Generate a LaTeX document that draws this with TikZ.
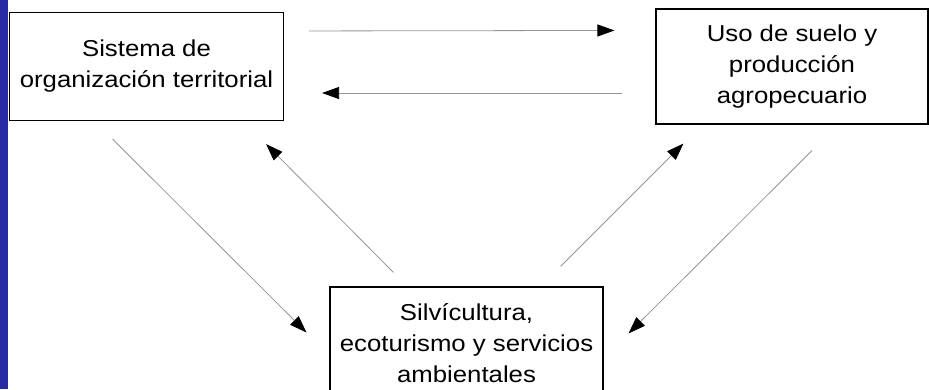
\documentclass[tikz,border=0pt]{standalone}
\usepackage{fontspec}
\setmainfont{Liberation Sans}
\newfontfamily\boxfont[FakeStretch=1.12]{Liberation Sans}
\usetikzlibrary{arrows.meta}
\definecolor{slideblue}{RGB}{42,42,165}
\definecolor{flowgray}{RGB}{150,150,150}

\begin{document}
\begin{tikzpicture}[x=1pt, y=-1pt,
		sysbox/.style={draw=black, line width=1.1pt, align=center, inner sep=0pt,
			font=\boxfont\fontsize{23}{31}\selectfont},
		flow/.style={draw=flowgray, line width=0.8pt,
			-{Triangle[length=17pt, width=12pt, color=black]}}]
			%%%%% START %%%%%
			
			\useasboundingbox (0, 0) rectangle (929, 389);
			\clip (0, 0) rectangle (929, 389);
			\fill[white] (0, 0) rectangle (929, 389);
			\fill[slideblue] (0, 0) rectangle (8, 389);
			
			\node[sysbox, minimum width=274pt, minimum height=108pt] (sistema) at (146.5, 66.5)
				{Sistema de\\organización territorial};
			\node[sysbox, minimum width=272pt, minimum height=115pt] (uso) at (792, 66.5)
				{Uso de suelo y\\producción\\agropecuario};
			\node[sysbox, minimum width=273pt, minimum height=112pt] (silvi) at (466.5, 343)
				{Silvícultura,\\ecoturismo y servicios\\ambientales};
			
			\draw[flow] ([shift={(25, 19)}]sistema.north east) -- ([shift={(-41, 22)}]uso.north west);
			\draw[flow] ([shift={(-33, 26.5)}]uso.west) -- ([shift={(38, 26.5)}]sistema.east);
			
			\draw[flow] ([shift={(-34, 18)}]sistema.south) -- ([shift={(-23, 46)}]silvi.north west);
			\draw[flow] ([shift={(64, -14)}]silvi.north west) -- ([shift={(-18, 23)}]sistema.south east);
			
			\draw[flow] ([shift={(-43, -20)}]silvi.north east) -- ([shift={(28, 19)}]uso.south west);
			\draw[flow] ([shift={(20, 26)}]uso.south) -- ([shift={(25, 47)}]silvi.north east);
			
			%%%%% END %%%%%
\end{tikzpicture}
\end{document}
